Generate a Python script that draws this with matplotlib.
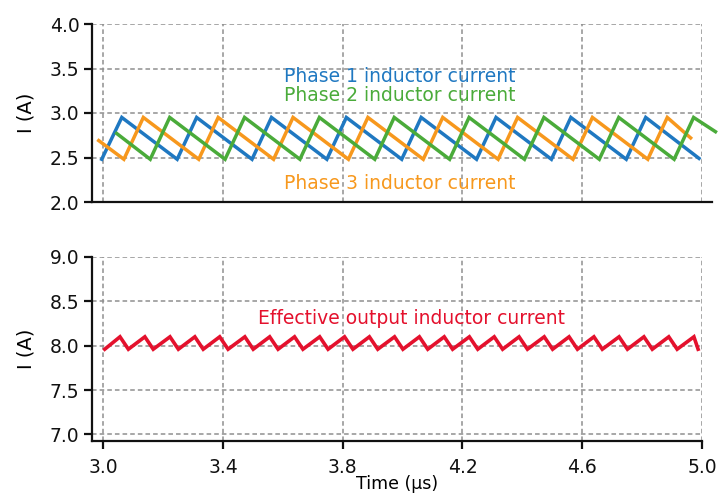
import matplotlib
matplotlib.use("Agg")
import matplotlib.pyplot as plt

# ---- data (vertices) ----
blue_t = [2.995, 3.062, 3.247, 3.312, 3.497, 3.562, 3.747, 3.812, 3.997,
          4.062, 4.247, 4.312, 4.497, 4.562, 4.747, 4.812, 4.990]
blue_i = [2.48, 2.95, 2.48, 2.95, 2.48, 2.95, 2.48, 2.95, 2.48,
          2.95, 2.48, 2.95, 2.48, 2.95, 2.48, 2.95, 2.49]

orange_t = [2.985, 3.069, 3.134, 3.319, 3.384, 3.569, 3.634, 3.819, 3.884,
            4.069, 4.134, 4.319, 4.384, 4.569, 4.634, 4.819, 4.884, 4.962]
orange_i = [2.69, 2.48, 2.95, 2.48, 2.95, 2.48, 2.95, 2.48, 2.95,
            2.48, 2.95, 2.48, 2.95, 2.48, 2.95, 2.48, 2.95, 2.72]

green_t = [3.045, 3.157, 3.222, 3.407, 3.472, 3.657, 3.722, 3.907, 3.972,
           4.157, 4.222, 4.407, 4.472, 4.657, 4.722, 4.907, 4.972, 5.045]
green_i = [2.77, 2.48, 2.95, 2.48, 2.95, 2.48, 2.95, 2.48, 2.95,
           2.48, 2.95, 2.48, 2.95, 2.48, 2.95, 2.48, 2.95, 2.79]

red_t = [3.005, 3.056, 3.084, 3.139, 3.167, 3.223, 3.251, 3.306, 3.334, 3.389,
         3.417, 3.473, 3.501, 3.556, 3.584, 3.639, 3.667, 3.723, 3.751, 3.806,
         3.834, 3.889, 3.917, 3.973, 4.001, 4.056, 4.084, 4.139, 4.167, 4.223,
         4.251, 4.306, 4.334, 4.389, 4.417, 4.473, 4.501, 4.556, 4.584, 4.639,
         4.667, 4.723, 4.751, 4.806, 4.834, 4.889, 4.917, 4.973, 4.987]
red_i = [7.96, 8.10, 7.96, 8.10, 7.96, 8.10, 7.96, 8.10, 7.96, 8.10,
         7.96, 8.10, 7.96, 8.10, 7.96, 8.10, 7.96, 8.10, 7.96, 8.10,
         7.96, 8.10, 7.96, 8.10, 7.96, 8.10, 7.96, 8.10, 7.96, 8.10,
         7.96, 8.10, 7.96, 8.10, 7.96, 8.10, 7.96, 8.10, 7.96, 8.10,
         7.96, 8.10, 7.96, 8.10, 7.96, 8.10, 7.96, 8.10, 7.96]

x_ticks = [3.0, 3.4, 3.8, 4.2, 4.6, 5.0]
x_ticklabels = ["3.0", "3.4", "3.8", "4.2", "4.6", "5.0"]
top_yticks = [2.0, 2.5, 3.0, 3.5, 4.0]
top_yticklabels = ["2.0", "2.5", "3.0", "3.5", "4.0"]
bot_yticks = [7.0, 7.5, 8.0, 8.5, 9.0]
bot_yticklabels = ["7.0", "7.5", "8.0", "8.5", "9.0"]

BLUE = "#1f78c1"
GREEN = "#4aab3a"
ORANGE = "#f7981d"
RED = "#e4112d"

plt.rcParams['font.family'] = ['DejaVu Sans']

W, H = 718, 495
fig = plt.figure(figsize=(W / 100, H / 100), dpi=100)

def box(l, r, t, b):
    return [l / W, 1 - b / H, (r - l) / W, (b - t) / H]

ax1 = fig.add_axes(box(92, 702, 24, 202))
ax2 = fig.add_axes(box(92, 702, 257, 441))

XMIN, XMAX = 2.9625, 5.0

for ax in (ax1, ax2):
    ax.set_xlim(XMIN, XMAX)
    ax.set_xticks(x_ticks)
    for s in ("top", "right"):
        ax.spines[s].set_visible(False)
    for s in ("left", "bottom"):
        ax.spines[s].set_linewidth(1.6)
        ax.spines[s].set_color("#111111")
    ax.grid(True, color="#8f8f8f", linestyle=(0, (3, 2)), linewidth=1.1)
    ax.set_axisbelow(True)
    ax.tick_params(axis="both", direction="out", length=6, width=1.6,
                   labelsize=13.5, colors="#111111", pad=3)

# top panel
ax1.set_ylim(2.0, 4.0)
ax1.set_yticks(top_yticks)
ax1.set_yticklabels(top_yticklabels)
ax1.tick_params(axis="x", length=0, labelbottom=False)
ax1.spines["bottom"].set_bounds(XMIN, 5.035)
ax1.plot(blue_t, blue_i, color=BLUE, lw=2.5, solid_joinstyle="miter")
ax1.plot(orange_t, orange_i, color=ORANGE, lw=2.5, solid_joinstyle="miter")
ax1.plot(green_t, green_i, color=GREEN, lw=2.5, solid_joinstyle="miter", clip_on=False)
ax1.set_ylabel("I (A)", fontsize=14, labelpad=10)
ax1.text(3.99, 3.41, "Phase 1 inductor current", color=BLUE, fontsize=13.5,
         ha="center", va="center")
ax1.text(3.99, 3.20, "Phase 2 inductor current", color=GREEN, fontsize=13.5,
         ha="center", va="center")
ax1.text(3.99, 2.21, "Phase 3 inductor current", color=ORANGE, fontsize=13.5,
         ha="center", va="center")

# bottom panel
ax2.set_ylim(6.925, 9.0)
ax2.set_yticks(bot_yticks)
ax2.set_yticklabels(bot_yticklabels)
ax2.set_xticklabels(x_ticklabels)
ax2.tick_params(axis="x", pad=6)
ax2.plot(red_t, red_i, color=RED, lw=2.6, solid_joinstyle="miter")
ax2.set_ylabel("I (A)", fontsize=14, labelpad=10)
ax2.set_xlabel("Time (µs)", fontsize=12.5, labelpad=-1)
ax2.text(4.03, 8.31, "Effective output inductor current", color=RED, fontsize=13.5,
         ha="center", va="center")

fig.savefig("out.png", dpi=100)
